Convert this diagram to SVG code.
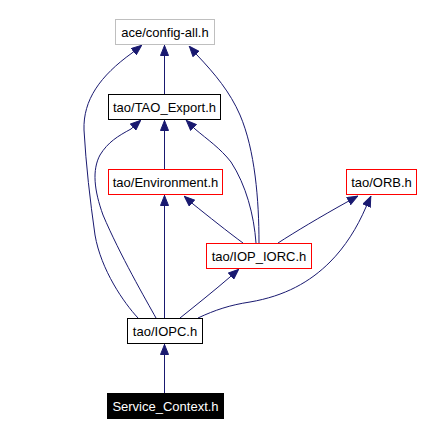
<svg xmlns="http://www.w3.org/2000/svg" width="422" height="435" viewBox="0 0 422 435">
<style>
.n rect{fill:#fff;stroke:#000;stroke-width:1}
.n.red rect{stroke:#ff0000}
.n.gray rect{stroke:#bfbfbf}
.n.cur rect{fill:#000;stroke:#000}
.n text{font-family:"Liberation Sans",Arial,sans-serif;font-size:13px;fill:#000;text-anchor:middle}
.n.cur text{fill:#fff}
.e path{fill:none;stroke:#191970;stroke-width:1;marker-end:url(#ah)}
</style>
<defs>
<marker id="ah" markerUnits="userSpaceOnUse" viewBox="0 0 11 9" refX="11" refY="4.5" markerWidth="11" markerHeight="9" orient="auto">
<path d="M0.5,0.5 L10.5,4.5 L0.5,8.5 z" fill="#191970" stroke="#191970" stroke-width="1"/>
</marker>
</defs>
<rect width="422" height="435" fill="#fff"/>
<g id="edges" class="e">
<path d="M164.5,94 L164.5,45"/>
<path d="M138,318 C124,303 101,270 95,235 C90,200 86,165 84,130 C83,100 100,76 132,53 L142,45"/>
<path d="M259,243 C259,200 255,150 240,115 C230,92 215,74 197,55 L189,46"/>
<path d="M164.5,169 L164.5,120"/>
<path d="M156,318 C146,300 120,255 103,215 C94,190 92,170 100,155 C108,142 118,136 131,129 L141,120"/>
<path d="M256,243 C254,215 246,185 231,162 C220,148 208,140 195,129 L186,120"/>
<path d="M164.5,318 L164.5,195"/>
<path d="M243,243 C228,232 208,216 193,204 L184,196"/>
<path d="M278,243 C295,232 320,217 347,202 L358,196"/>
<path d="M198,318 C215,310 230,305 250,302 C285,296 310,282 330,262 C345,247 357,228 366,207 L371,196"/>
<path d="M180,318 C195,306 215,290 230,277 L239,269"/>
<path d="M164.5,393 L164.5,344"/>
</g>
<g id="n_config_all" class="n gray"><rect x="115.5" y="19.5" width="99" height="25"/><text x="165" y="36.5">ace/config-all.h</text></g>
<g id="n_tao_export" class="n"><rect x="108.5" y="94.5" width="112" height="25"/><text x="164.5" y="111.5">tao/TAO_Export.h</text></g>
<g id="n_environment" class="n red"><rect x="108.5" y="169.5" width="114" height="25"/><text x="165.5" y="186.5">tao/Environment.h</text></g>
<g id="n_orb" class="n red"><rect x="346.5" y="169.5" width="70" height="25"/><text x="381.5" y="186.5">tao/ORB.h</text></g>
<g id="n_iop_iorc" class="n red"><rect x="206.5" y="243.5" width="105" height="25"/><text x="259" y="260.5">tao/IOP_IORC.h</text></g>
<g id="n_iopc" class="n"><rect x="127.5" y="318.5" width="75" height="25"/><text x="165" y="335.5">tao/IOPC.h</text></g>
<g id="n_service_context" class="n cur"><rect x="107.5" y="393.5" width="116" height="25"/><text x="165.5" y="410.5">Service_Context.h</text></g>
</svg>
